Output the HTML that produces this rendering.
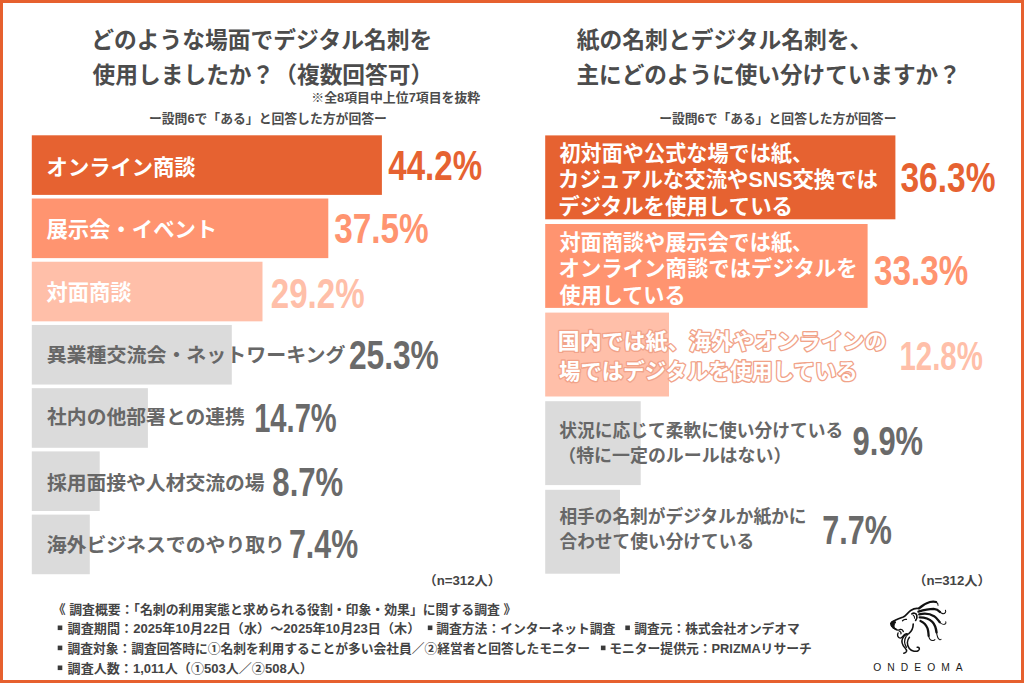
<!DOCTYPE html>
<html lang="ja"><head><meta charset="utf-8"><title>デジタル名刺 調査</title>
<style>
html,body{margin:0;padding:0;background:#fff;}
body{width:1024px;height:683px;position:relative;overflow:hidden;font-family:"Liberation Sans",sans-serif;}
#frame{position:absolute;left:0;top:0;width:1024px;height:683px;box-sizing:border-box;border:3px solid #E6602E;z-index:2;pointer-events:none}
.t{position:absolute;color:transparent;white-space:nowrap;font-family:"Liberation Sans",sans-serif;font-weight:bold;overflow:hidden}
</style></head><body>
<svg width="1024" height="683" viewBox="0 0 1024 683" style="position:absolute;left:0;top:0;display:block">
<rect x="31.80" y="135.30" width="350.10" height="59.60" fill="#E66231"/>
<rect x="31.80" y="198.52" width="296.50" height="59.60" fill="#FF9470"/>
<rect x="31.80" y="261.74" width="230.70" height="59.60" fill="#FFBFA9"/>
<rect x="31.80" y="324.96" width="200.00" height="59.60" fill="#DBDBDB"/>
<rect x="31.80" y="388.18" width="116.10" height="59.60" fill="#DBDBDB"/>
<rect x="31.80" y="451.40" width="67.90" height="59.60" fill="#DBDBDB"/>
<rect x="31.80" y="514.62" width="58.00" height="59.60" fill="#DBDBDB"/>
<rect x="545.20" y="135.40" width="350.20" height="83.90" fill="#E66231"/>
<rect x="545.20" y="224.00" width="322.40" height="83.90" fill="#FF9470"/>
<rect x="545.20" y="312.60" width="123.80" height="83.90" fill="#FFBFA9"/>
<rect x="545.20" y="401.20" width="95.50" height="83.90" fill="#DBDBDB"/>
<rect x="545.20" y="489.80" width="74.80" height="83.90" fill="#DBDBDB"/>
<rect x="57.70" y="625.50" width="4.60" height="4.60" fill="#3a3a3a"/>
<rect x="427.80" y="625.50" width="4.60" height="4.60" fill="#3a3a3a"/>
<rect x="625.30" y="625.50" width="4.60" height="4.60" fill="#3a3a3a"/>
<rect x="57.70" y="645.60" width="4.60" height="4.60" fill="#3a3a3a"/>
<rect x="600.90" y="645.60" width="4.60" height="4.60" fill="#3a3a3a"/>
<rect x="57.70" y="665.50" width="4.60" height="4.60" fill="#3a3a3a"/>
<g font-family="&quot;Liberation Sans&quot;, &quot;Noto Sans CJK JP&quot;, sans-serif" font-weight="bold">
<text x="91.21" y="47.60" font-size="22.75" fill="#4c4c4c" textLength="341" lengthAdjust="spacingAndGlyphs">どのような場面でデジタル名刺を</text>
<text x="92.60" y="83.10" font-size="22.75" fill="#4c4c4c" textLength="340.6" lengthAdjust="spacingAndGlyphs">使用しましたか？（複数回答可）</text>
<text x="311.31" y="101.80" font-size="12.8" fill="#4c4c4c" textLength="168.9" lengthAdjust="spacingAndGlyphs">※全8項目中上位7項目を抜粋</text>
<text x="148.92" y="123.20" font-size="12.8" fill="#4c4c4c" textLength="238" lengthAdjust="spacingAndGlyphs">ー設問6で「ある」と回答した方が回答ー</text>
<text x="576.81" y="47.70" font-size="22.75" fill="#4c4c4c" textLength="295.6" lengthAdjust="spacingAndGlyphs">紙の名刺とデジタル名刺を、</text>
<text x="576.42" y="83.30" font-size="22.75" fill="#4c4c4c" textLength="384.4" lengthAdjust="spacingAndGlyphs">主にどのように使い分けていますか？</text>
<text x="659.22" y="123.20" font-size="12.8" fill="#4c4c4c" textLength="237.2" lengthAdjust="spacingAndGlyphs">ー設問6で「ある」と回答した方が回答ー</text>
<text x="46.62" y="174.90" font-size="21.3" fill="#fff" textLength="148.9" lengthAdjust="spacingAndGlyphs">オンライン商談</text>
<text x="46.43" y="237.42" font-size="21.3" fill="#fff" textLength="170.8" lengthAdjust="spacingAndGlyphs">展示会・イベント</text>
<text x="46.52" y="300.34" font-size="21.3" fill="#fff" textLength="84.9" lengthAdjust="spacingAndGlyphs">対面商談</text>
<text x="46.65" y="361.96" font-size="19.85" fill="#676767" textLength="298.8" lengthAdjust="spacingAndGlyphs">異業種交流会・ネットワーキング</text>
<text x="47.04" y="423.58" font-size="19.85" fill="#676767" textLength="197.9" lengthAdjust="spacingAndGlyphs">社内の他部署との連携</text>
<text x="46.88" y="489.50" font-size="19.85" fill="#676767" textLength="217.8" lengthAdjust="spacingAndGlyphs">採用面接や人材交流の場</text>
<text x="46.70" y="551.62" font-size="19.85" fill="#676767" textLength="238.3" lengthAdjust="spacingAndGlyphs">海外ビジネスでのやり取り</text>
<text x="388.32" y="180.29" font-size="43" fill="#E66231" textLength="93.8" lengthAdjust="spacingAndGlyphs">44.2%</text>
<text x="334.14" y="242.61" font-size="43" fill="#FF9470" textLength="94.4" lengthAdjust="spacingAndGlyphs">37.5%</text>
<text x="270.82" y="308.43" font-size="43" fill="#FFBFA9" textLength="93.8" lengthAdjust="spacingAndGlyphs">29.2%</text>
<text x="348.88" y="369.11" font-size="41" fill="#6a6a6a" textLength="89.9" lengthAdjust="spacingAndGlyphs">25.3%</text>
<text x="254.15" y="431.93" font-size="41" fill="#6a6a6a" textLength="82.6" lengthAdjust="spacingAndGlyphs">14.7%</text>
<text x="272.34" y="495.55" font-size="41" fill="#6a6a6a" textLength="70.9" lengthAdjust="spacingAndGlyphs">8.7%</text>
<text x="288.99" y="557.77" font-size="41" fill="#6a6a6a" textLength="69.1" lengthAdjust="spacingAndGlyphs">7.4%</text>
<text x="559.44" y="160.90" font-size="21.3" fill="#fff" textLength="253.7" lengthAdjust="spacingAndGlyphs">初対面や公式な場では紙、</text>
<text x="558.03" y="187.45" font-size="21.3" fill="#fff" textLength="320" lengthAdjust="spacingAndGlyphs">カジュアルな交流やSNS交換では</text>
<text x="558.27" y="214.00" font-size="21.3" fill="#fff" textLength="234.8" lengthAdjust="spacingAndGlyphs">デジタルを使用している</text>
<text x="559.42" y="249.65" font-size="21.3" fill="#fff" textLength="253.8" lengthAdjust="spacingAndGlyphs">対面商談や展示会では紙、</text>
<text x="558.52" y="276.25" font-size="21.3" fill="#fff" textLength="299.1" lengthAdjust="spacingAndGlyphs">オンライン商談ではデジタルを</text>
<text x="559.52" y="302.85" font-size="21.3" fill="#fff" textLength="126.1" lengthAdjust="spacingAndGlyphs">使用している</text>
<text x="557.86" y="348.60" font-size="21.6" fill="#fff" stroke="#F1A389" stroke-width="2.7" stroke-linejoin="round" paint-order="stroke" textLength="328.6" lengthAdjust="spacingAndGlyphs">国内では紙、海外やオンラインの</text>
<text x="559.02" y="379.10" font-size="21.6" fill="#fff" stroke="#F1A389" stroke-width="2.7" stroke-linejoin="round" paint-order="stroke" textLength="298.7" lengthAdjust="spacingAndGlyphs">場ではデジタルを使用している</text>
<text x="559.30" y="436.50" font-size="17.7" fill="#676767" textLength="283.9" lengthAdjust="spacingAndGlyphs">状況に応じて柔軟に使い分けている</text>
<text x="558.26" y="462.40" font-size="17.7" fill="#676767" textLength="233.1" lengthAdjust="spacingAndGlyphs">（特に一定のルールはない）</text>
<text x="559.46" y="523.20" font-size="17.7" fill="#676767" textLength="247" lengthAdjust="spacingAndGlyphs">相手の名刺がデジタルか紙かに</text>
<text x="559.45" y="548.30" font-size="17.7" fill="#676767" textLength="194.7" lengthAdjust="spacingAndGlyphs">合わせて使い分けている</text>
<text x="900.46" y="191.70" font-size="43" fill="#E66231" textLength="95" lengthAdjust="spacingAndGlyphs">36.3%</text>
<text x="874.07" y="284.50" font-size="43" fill="#FF9470" textLength="94.1" lengthAdjust="spacingAndGlyphs">33.3%</text>
<text x="899.45" y="370.40" font-size="41" fill="#FFBFA9" textLength="83.4" lengthAdjust="spacingAndGlyphs">12.8%</text>
<text x="852.60" y="454.80" font-size="41" fill="#6a6a6a" textLength="70.5" lengthAdjust="spacingAndGlyphs">9.9%</text>
<text x="822.35" y="544.00" font-size="41" fill="#6a6a6a" textLength="69.5" lengthAdjust="spacingAndGlyphs">7.7%</text>
<text x="423.41" y="585.10" font-size="12.8" fill="#444444" textLength="77.6" lengthAdjust="spacingAndGlyphs">（n=312人）</text>
<text x="913.21" y="585.10" font-size="12.8" fill="#444444" textLength="77.6" lengthAdjust="spacingAndGlyphs">（n=312人）</text>
<text x="52.82" y="613.60" font-size="12.7" fill="#444444" textLength="463.5" lengthAdjust="spacingAndGlyphs">《 調査概要：「名刺の利用実態と求められる役割・印象・効果」に関する調査 》</text>
<text x="67.62" y="633.30" font-size="12.7" fill="#444444" textLength="352.7" lengthAdjust="spacingAndGlyphs">調査期間：2025年10月22日（水）～2025年10月23日（木）</text>
<text x="436.22" y="633.30" font-size="12.7" fill="#444444" textLength="179.1" lengthAdjust="spacingAndGlyphs">調査方法：インターネット調査</text>
<text x="634.32" y="633.30" font-size="12.7" fill="#444444" textLength="165.5" lengthAdjust="spacingAndGlyphs">調査元：株式会社オンデオマ</text>
<text x="67.62" y="653.40" font-size="12.7" fill="#444444" textLength="522.5" lengthAdjust="spacingAndGlyphs">調査対象：調査回答時に①名刺を利用することが多い会社員／②経営者と回答したモニター</text>
<text x="609.15" y="653.40" font-size="12.7" fill="#444444" textLength="202.7" lengthAdjust="spacingAndGlyphs">モニター提供元：PRIZMAリサーチ</text>
<text x="67.62" y="673.30" font-size="12.7" fill="#444444" textLength="245.2" lengthAdjust="spacingAndGlyphs">調査人数：1,011人（①503人／②508人）</text>
</g>
<text x="873.32" y="671.00" font-family="&quot;Liberation Sans&quot;, sans-serif" font-size="10.3" fill="#1c1c1c" textLength="89.3" lengthAdjust="spacing">ONDEOMA</text>
<g transform="translate(884 596) scale(0.09363)" fill="none" stroke="#111" stroke-linecap="round" stroke-linejoin="round">
<path stroke-width="17" d="M80 282C120 255 165 240 205 225C235 212 250 180 285 155C315 135 345 128 372 134"/>
<path fill="#111" stroke-width="10" d="M70 294C74 268 108 260 126 278C116 294 106 304 108 324C111 340 121 348 134 354C108 358 84 340 75 318C71 308 68 302 70 294Z"/>
<path stroke-width="15" d="M112 346C132 364 152 370 172 358C188 352 200 362 206 380"/>
<path stroke-width="15" d="M150 395C138 420 148 447 172 450C196 452 202 420 226 406C242 398 254 404 250 416"/>
<path stroke-width="13" d="M162 374C178 382 188 394 180 404"/>
<path stroke-width="14" d="M198 264C210 250 226 247 240 250"/>
<path stroke-width="18" d="M298 192C314 178 342 180 350 205C356 226 350 246 338 260"/>
<path stroke-width="11" d="M312 206C322 212 328 225 326 238"/>
<path stroke-width="17" d="M312 300C312 340 298 376 265 402C245 416 225 420 212 422"/>
<path stroke-width="16" d="M215 428C190 458 185 496 205 530C220 555 246 570 241 590C237 602 226 608 212 612"/>
<path stroke-width="13" d="M238 428C215 466 215 510 240 548"/>
<path stroke-width="16" d="M272 440C245 470 240 520 270 560C295 592 345 600 370 580C386 565 376 544 355 548"/>
<path stroke-width="24" d="M374 132C402 104 442 78 490 64C516 57 540 58 556 64"/>
<path stroke-width="11" d="M556 64C570 72 580 86 577 100"/>
<path stroke-width="25" d="M368 166C420 150 480 137 530 137C562 139 584 154 598 170"/>
<path stroke-width="11" d="M598 170C614 190 640 196 655 178C661 170 660 160 656 152"/>
<path stroke-width="25" d="M376 196C430 184 490 188 535 215C563 234 578 258 594 278"/>
<path stroke-width="11" d="M594 278C612 300 640 308 656 296C663 290 662 282 660 276"/>
<path stroke-width="26" d="M382 228C430 228 480 240 515 275C545 305 556 350 561 388"/>
<path stroke-width="11" d="M561 388C566 425 575 455 592 465C600 468 606 466 610 462"/>
<path stroke-width="24" d="M390 266C420 280 450 305 465 345C475 375 474 400 477 426"/>
<path stroke-width="11" d="M477 426C482 460 500 478 525 476C535 474 540 470 544 466"/>
</g>

</svg>
<div id="txt" aria-label="chart text">
<div class="t" style="left:94px;top:24px;font-size:22.75px;line-height:27.3px">どのような場面でデジタル名刺を</div>
<div class="t" style="left:93px;top:60px;font-size:22.75px;line-height:27.3px">使用しましたか？（複数回答可）</div>
<div class="t" style="left:313px;top:89px;font-size:12.8px;line-height:15.4px">※全8項目中上位7項目を抜粋</div>
<div class="t" style="left:150px;top:111px;font-size:12.8px;line-height:15.4px">ー設問6で「ある」と回答した方が回答ー</div>
<div class="t" style="left:48px;top:153px;font-size:21.3px;line-height:25.6px">オンライン商談</div>
<div class="t" style="left:389px;top:143px;font-size:43px;line-height:51.6px">44.2%</div>
<div class="t" style="left:47px;top:216px;font-size:21.3px;line-height:25.6px">展示会・イベント</div>
<div class="t" style="left:335px;top:206px;font-size:43px;line-height:51.6px">37.5%</div>
<div class="t" style="left:47px;top:279px;font-size:21.3px;line-height:25.6px">対面商談</div>
<div class="t" style="left:272px;top:271px;font-size:43px;line-height:51.6px">29.2%</div>
<div class="t" style="left:47px;top:343px;font-size:19.85px;line-height:23.8px">異業種交流会・ネットワーキング</div>
<div class="t" style="left:350px;top:334px;font-size:41px;line-height:49.2px">25.3%</div>
<div class="t" style="left:47px;top:405px;font-size:19.85px;line-height:23.8px">社内の他部署との連携</div>
<div class="t" style="left:254px;top:397px;font-size:41px;line-height:49.2px">14.7%</div>
<div class="t" style="left:47px;top:470px;font-size:19.85px;line-height:23.8px">採用面接や人材交流の場</div>
<div class="t" style="left:274px;top:460px;font-size:41px;line-height:49.2px">8.7%</div>
<div class="t" style="left:47px;top:533px;font-size:19.85px;line-height:23.8px">海外ビジネスでのやり取り</div>
<div class="t" style="left:289px;top:523px;font-size:41px;line-height:49.2px">7.4%</div>
<div class="t" style="left:431px;top:573px;font-size:12.8px;line-height:15.4px">（n=312人）</div>
<div class="t" style="left:576px;top:25px;font-size:22.75px;line-height:27.3px">紙の名刺とデジタル名刺を、</div>
<div class="t" style="left:577px;top:60px;font-size:22.75px;line-height:27.3px">主にどのように使い分けていますか？</div>
<div class="t" style="left:660px;top:111px;font-size:12.8px;line-height:15.4px">ー設問6で「ある」と回答した方が回答ー</div>
<div class="t" style="left:559px;top:140px;font-size:21.3px;line-height:25.6px">初対面や公式な場では紙、</div>
<div class="t" style="left:559px;top:167px;font-size:21.3px;line-height:25.6px">カジュアルな交流やSNS交換では</div>
<div class="t" style="left:559px;top:193px;font-size:21.3px;line-height:25.6px">デジタルを使用している</div>
<div class="t" style="left:901px;top:154px;font-size:43px;line-height:51.6px">36.3%</div>
<div class="t" style="left:559px;top:229px;font-size:21.3px;line-height:25.6px">対面商談や展示会では紙、</div>
<div class="t" style="left:559px;top:256px;font-size:21.3px;line-height:25.6px">オンライン商談ではデジタルを</div>
<div class="t" style="left:559px;top:282px;font-size:21.3px;line-height:25.6px">使用している</div>
<div class="t" style="left:875px;top:247px;font-size:43px;line-height:51.6px">33.3%</div>
<div class="t" style="left:559px;top:327px;font-size:21.6px;line-height:25.9px">国内では紙、海外やオンラインの</div>
<div class="t" style="left:559px;top:357px;font-size:21.6px;line-height:25.9px">場ではデジタルを使用している</div>
<div class="t" style="left:900px;top:336px;font-size:41px;line-height:49.2px">12.8%</div>
<div class="t" style="left:559px;top:419px;font-size:17.7px;line-height:21.2px">状況に応じて柔軟に使い分けている</div>
<div class="t" style="left:559px;top:445px;font-size:17.7px;line-height:21.2px">（特に一定のルールはない）</div>
<div class="t" style="left:853px;top:420px;font-size:41px;line-height:49.2px">9.9%</div>
<div class="t" style="left:559px;top:506px;font-size:17.7px;line-height:21.2px">相手の名刺がデジタルか紙かに</div>
<div class="t" style="left:559px;top:531px;font-size:17.7px;line-height:21.2px">合わせて使い分けている</div>
<div class="t" style="left:823px;top:509px;font-size:41px;line-height:49.2px">7.7%</div>
<div class="t" style="left:921px;top:573px;font-size:12.8px;line-height:15.4px">（n=312人）</div>
<div class="t" style="left:54px;top:601px;font-size:12.7px;line-height:15.2px">《 調査概要：「名刺の利用実態と求められる役割・印象・効果」に関する調査 》</div>
<div class="t" style="left:57px;top:621px;font-size:12.7px;line-height:15.2px">▪ 調査期間：2025年10月22日（水）～2025年10月23日（木）　▪ 調査方法：インターネット調査　▪ 調査元：株式会社オンデオマ</div>
<div class="t" style="left:57px;top:641px;font-size:12.7px;line-height:15.2px">▪ 調査対象：調査回答時に①名刺を利用することが多い会社員／②経営者と回答したモニター　▪ モニター提供元：PRIZMAリサーチ</div>
<div class="t" style="left:57px;top:661px;font-size:12.7px;line-height:15.2px">▪ 調査人数：1,011人（①503人／②508人）</div>
<div class="t" style="left:873px;top:662px;font-size:10.3px;line-height:12.4px">ONDEOMA</div>
</div>
<div id="frame"></div>
</body></html>
